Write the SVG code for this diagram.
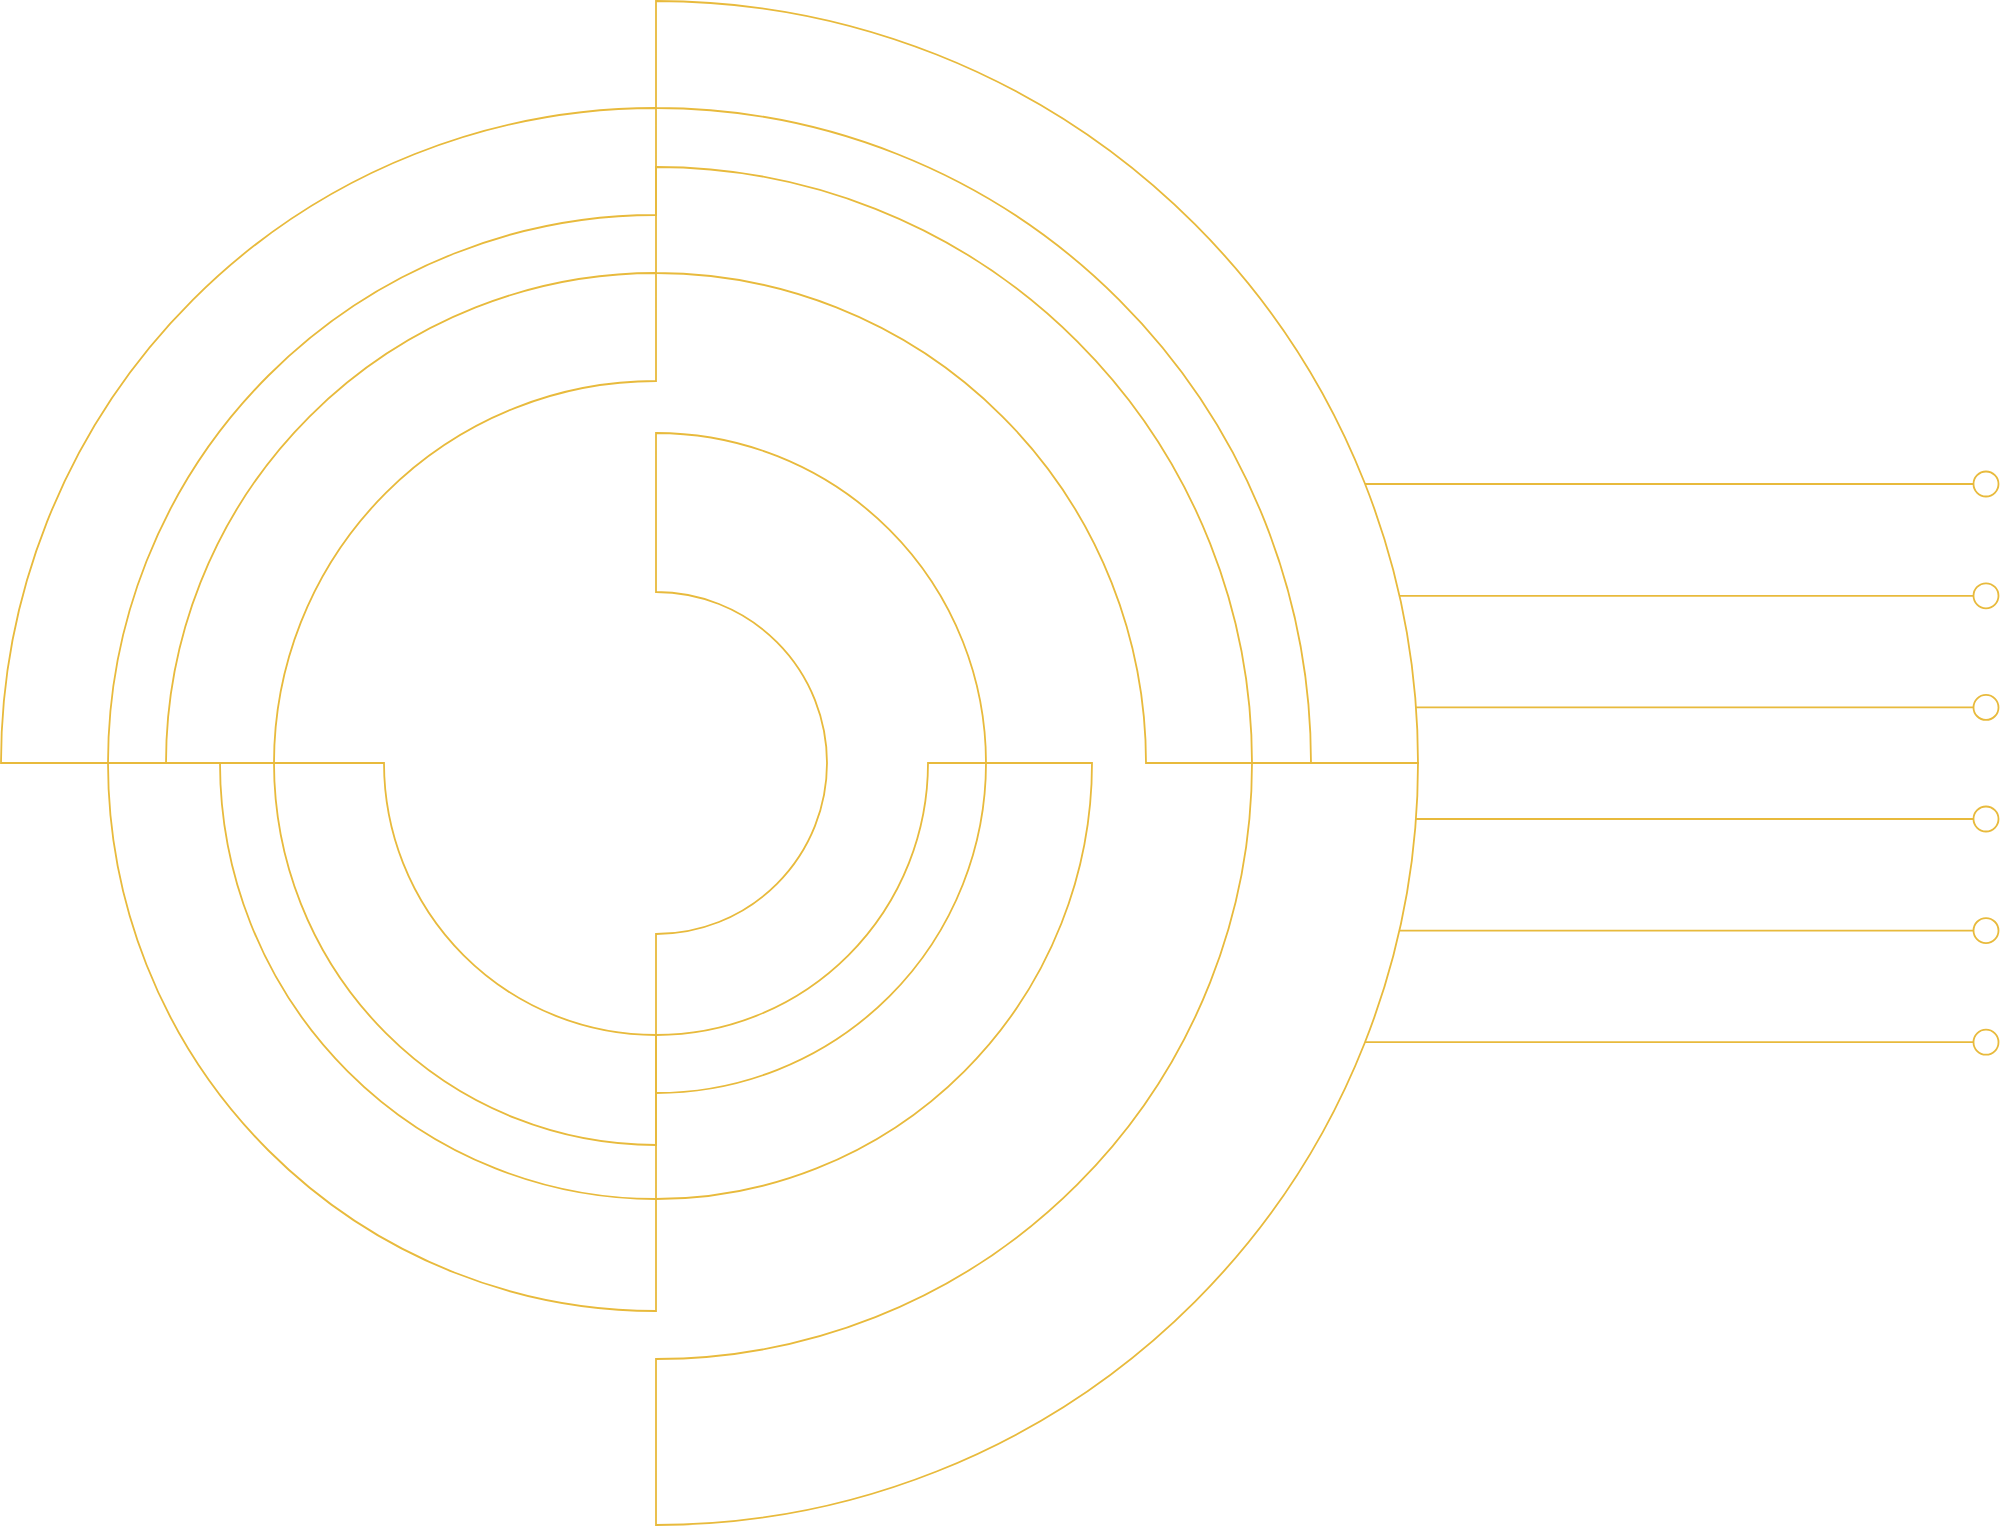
<svg xmlns="http://www.w3.org/2000/svg" width="2000" height="1528" viewBox="0 0 2000 1528">
<style>
.s{fill:none;stroke:#E8BA3C;stroke-width:1.8;stroke-linejoin:miter}
</style>
<rect width="2000" height="1528" fill="#ffffff"/>
<g id="ring-a"><path class="s" d="M656,1 A762,762 0 0 1 1418,763 L1311,763 A655,655 0 0 0 656,108 Z"/></g>
<g id="ring-b"><path class="s" d="M1418,763 A762,762 0 0 1 656,1525 L656,1359 A596,596 0 0 0 1252,763 Z"/></g>
<g id="ring-c"><path class="s" d="M1,763 A655,655 0 0 1 656,108 L656,215 A548,548 0 0 0 108,763 Z"/></g>
<g id="ring-d"><path class="s" d="M656,167 A596,596 0 0 1 1252,763 L1146,763 A490,490 0 0 0 656,273 Z"/></g>
<g id="ring-e"><path class="s" d="M108,763 A548,548 0 0 0 656,1311 L656,1199 A436,436 0 0 1 220,763 Z"/></g>
<g id="ring-f"><path class="s" d="M166,763 A490,490 0 0 1 656,273 L656,381 A382,382 0 0 0 274,763 Z"/></g>
<g id="ring-g"><path class="s" d="M656,1199 A436,436 0 0 0 1092,763 L928,763 A272,272 0 0 1 656,1035 Z"/></g>
<g id="ring-h"><path class="s" d="M274,763 A382,382 0 0 0 656,1145 L656,1035 A272,272 0 0 1 384,763 Z"/></g>
<g id="ring-i"><path class="s" d="M656,433 A330,330 0 0 1 656,1093 L656,934 A171,171 0 0 0 656,592 Z"/></g>
<g id="connectors">
<line class="s" x1="1365" y1="484" x2="1973.5" y2="484"/>
<line class="s" x1="1399.4" y1="595.8" x2="1973.5" y2="595.8"/>
<line class="s" x1="1416" y1="707.4" x2="1973.5" y2="707.4"/>
<line class="s" x1="1416" y1="819" x2="1973.5" y2="819"/>
<line class="s" x1="1399.4" y1="930.6" x2="1973.5" y2="930.6"/>
<line class="s" x1="1365" y1="1042.2" x2="1973.5" y2="1042.2"/>
</g>
<g id="end-1"><circle class="s" cx="1986" cy="484" r="12.5"/></g>
<g id="end-2"><circle class="s" cx="1986" cy="595.8" r="12.5"/></g>
<g id="end-3"><circle class="s" cx="1986" cy="707.4" r="12.5"/></g>
<g id="end-4"><circle class="s" cx="1986" cy="819" r="12.5"/></g>
<g id="end-5"><circle class="s" cx="1986" cy="930.6" r="12.5"/></g>
<g id="end-6"><circle class="s" cx="1986" cy="1042.2" r="12.5"/></g>
</svg>
